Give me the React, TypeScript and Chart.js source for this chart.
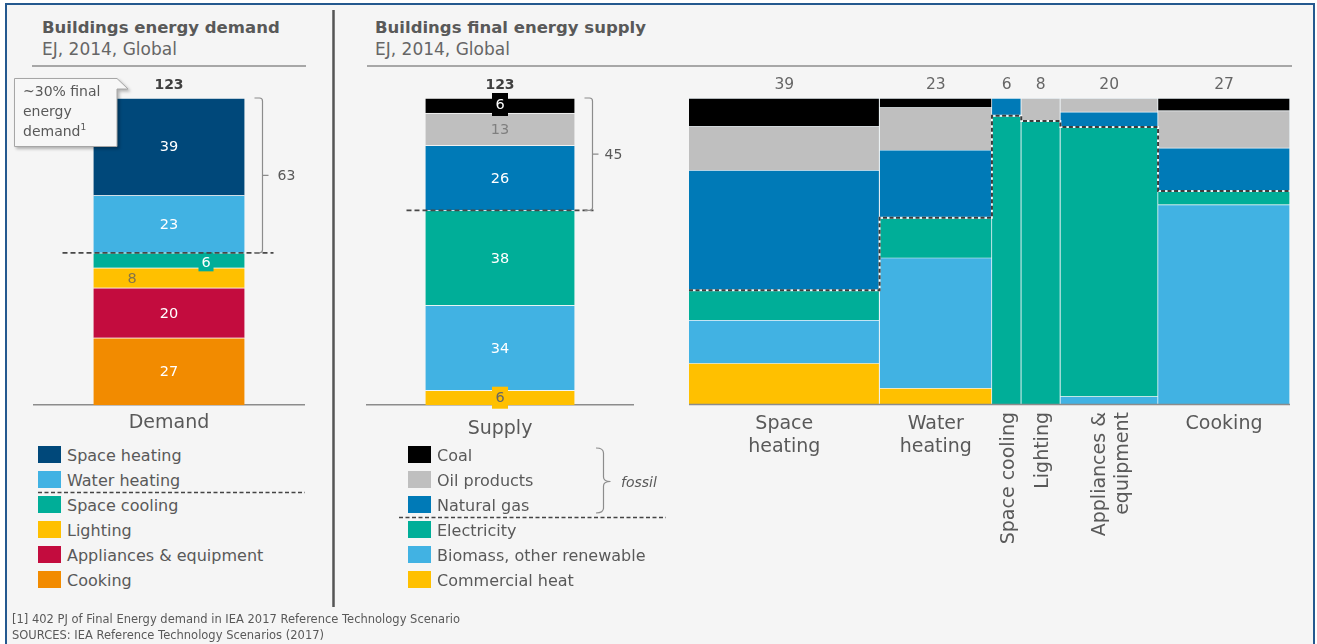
import React, { useEffect, useRef } from "react";
import { Chart, registerables } from "chart.js";

Chart.register(...registerables);

const FONT = "'DejaVu Sans', 'Open Sans', sans-serif";
Chart.defaults.font.family = FONT;

// ---------------- DATA ----------------
const endUses = ["Space heating", "Water heating", "Space cooling", "Lighting", "Appliances & equipment", "Cooking"];
const demandValues = [39, 23, 6, 8, 20, 27];
const demandAxisLabel = "Demand";
const demandTotalLabel = "123";
const demandBracketLabel = "63";

const supplyTypes = ["Coal", "Oil products", "Natural gas", "Electricity", "Biomass, other renewable", "Commercial heat"];
const supplyValues = [6, 13, 26, 38, 34, 6];
const supplyAxisLabel = "Supply";
const supplyTotalLabel = "123";
const supplyBracketLabel = "45";
const fossilCount = 3;

// Supply by end use (EJ), in the order of endUses
const coalByUse = [3.6, 0.7, 0, 0, 0, 1.1];
const oilByUse = [5.6, 3.2, 0, 0.6, 0.9, 3.3];
const gasByUse = [15.3, 5.1, 0.35, 0, 1.0, 3.8];
const electricityByUse = [3.8, 3.0, 5.65, 7.4, 17.6, 1.2];
const biomassByUse = [5.5, 9.8, 0, 0, 0.5, 17.6];
const heatByUse = [5.2, 1.2, 0, 0, 0, 0];
const supplyByUse = [coalByUse, oilByUse, gasByUse, electricityByUse, biomassByUse, heatByUse];

const mekkoTopLabels = ["39", "23", "6", "8", "20", "27"];
const mekkoBottomLabels = [["Space", "heating"], ["Water", "heating"], ["Space cooling"], ["Lighting"], ["Appliances &", "equipment"], ["Cooking"]];
const mekkoRotated = [false, false, true, true, true, false];

// ---------------- STYLES ----------------
const useColors = ["#00487a", "#41b2e3", "#00ae98", "#ffc000", "#c30c3e", "#f28b00"];
const supplyColors = ["#000000", "#bfbfbf", "#007ab7", "#00ae98", "#41b2e3", "#ffc000"];

type SegStyle = { color: string; box?: string; dx?: number; dy?: number; w?: number; h?: number };
const demandLabelStyles: SegStyle[] = [
  { color: "#ffffff" },
  { color: "#ffffff" },
  { color: "#ffffff", box: "#00ae98", dx: 37, dy: 1.5, w: 15, h: 19 },
  { color: "#85744a", dx: -37 },
  { color: "#ffffff" },
  { color: "#ffffff" },
];
const supplyLabelStyles: SegStyle[] = [
  { color: "#ffffff", box: "#000000", dy: -1, w: 16, h: 23 },
  { color: "#7f7f7f" },
  { color: "#ffffff" },
  { color: "#ffffff" },
  { color: "#ffffff" },
  { color: "#666666", box: "#ffc000", dy: 0, w: 16, h: 22 },
];

const sum = (a: number[]) => a.reduce((s, v) => s + v, 0);

function segLabelsPlugin(styles: SegStyle[], texts: string[]) {
  return {
    id: "segLabels",
    afterDatasetsDraw(chart: any) {
      const ctx = chart.ctx;
      ctx.save();
      ctx.font = `14.5px ${FONT}`;
      ctx.textAlign = "center";
      ctx.textBaseline = "middle";
      chart.data.datasets.forEach((_ds: any, di: number) => {
        const el = chart.getDatasetMeta(di).data[0];
        if (!el) return;
        const st = styles[di];
        const x = el.x + (st.dx || 0);
        const y = (el.y + el.base) / 2 + (st.dy || 0);
        if (st.box) {
          ctx.fillStyle = st.box;
          ctx.fillRect(x - (st.w || 14) / 2, y - (st.h || 18) / 2, st.w || 14, st.h || 18);
        }
        ctx.fillStyle = st.color;
        ctx.fillText(texts[di], x, y + 1);
      });
      ctx.restore();
    },
  };
}

function annotPlugin(cfg: { from: number; to: number; total: number; label: string; totalLabel: string; dashLeft: number; dashRight: number; bx: number; lx: number }) {
  return {
    id: "annot",
    afterDatasetsDraw(chart: any) {
      const ctx = chart.ctx;
      const y = chart.scales.y;
      const el = chart.getDatasetMeta(0).data[0];
      const left = el.x - el.width / 2;
      const right = el.x + el.width / 2;
      const yTop = y.getPixelForValue(cfg.to);
      const yBot = y.getPixelForValue(cfg.from);
      ctx.save();
      // dashed split line
      ctx.strokeStyle = "#474747";
      ctx.lineWidth = 1.6;
      ctx.setLineDash([5, 3]);
      ctx.beginPath();
      ctx.moveTo(left - cfg.dashLeft, yBot);
      ctx.lineTo(right + cfg.dashRight, yBot);
      ctx.stroke();
      ctx.setLineDash([]);
      // bracket
      const bx = right + cfg.bx;
      const r = 3;
      ctx.strokeStyle = "#8c8c8c";
      ctx.lineWidth = 1.2;
      ctx.beginPath();
      ctx.moveTo(bx - 8, yTop);
      ctx.lineTo(bx - r, yTop);
      ctx.quadraticCurveTo(bx, yTop, bx, yTop + r);
      ctx.lineTo(bx, yBot - r);
      ctx.quadraticCurveTo(bx, yBot, bx - r, yBot);
      ctx.lineTo(bx - 8, yBot);
      const ym = (yTop + yBot) / 2;
      ctx.moveTo(bx, ym);
      ctx.lineTo(bx + 6, ym);
      ctx.stroke();
      ctx.fillStyle = "#595959";
      ctx.font = `14px ${FONT}`;
      ctx.textAlign = "left";
      ctx.textBaseline = "middle";
      ctx.fillText(cfg.label, bx + cfg.lx, ym + 1);
      // total label
      ctx.font = `bold 14px ${FONT}`;
      ctx.fillStyle = "#404040";
      ctx.textAlign = "center";
      ctx.fillText(cfg.totalLabel, el.x, y.getPixelForValue(cfg.total) - 13);
      ctx.restore();
    },
  };
}

function StackChart(props: {
  left: number; width: number; height: number; values: number[]; colors: string[]; names: string[];
  styles: SegStyle[]; axisLabel: string; totalLabel: string; bracketLabel: string;
  splitCount: number; barW: number; dashLeft: number; dashRight: number; lx: number; tickPad: number;
}) {
  const ref = useRef<HTMLCanvasElement>(null);
  useEffect(() => {
    const total = sum(props.values);
    const order = props.values.map((_, i) => props.values.length - 1 - i); // bottom-up
    const chart = new Chart(ref.current as HTMLCanvasElement, {
      type: "bar",
      data: {
        labels: [props.axisLabel],
        datasets: order.map((i) => ({
          label: props.names[i],
          data: [props.values[i]],
          backgroundColor: props.colors[i],
          borderColor: "rgba(255,255,255,0.55)",
          borderWidth: { top: 1, left: 0, right: 0, bottom: 0 },
          borderSkipped: false,
          barThickness: props.barW,
        })),
      },
      options: {
        animation: false,
        responsive: false,
        maintainAspectRatio: false,
        layout: { padding: { top: 28, left: 0, right: 0, bottom: 0 } },
        plugins: { legend: { display: false }, tooltip: { enabled: false } },
        scales: {
          x: {
            stacked: true,
            grid: { display: false, drawTicks: false },
            border: { color: "#8c8c8c", width: 1.5 },
            ticks: { font: { size: 19, family: FONT }, color: "#595959", padding: props.tickPad },
          },
          y: { stacked: true, display: false, min: 0, max: total },
        },
      } as any,
      plugins: [
        segLabelsPlugin(order.map((i) => props.styles[i]), order.map((i) => String(props.values[i]))),
        annotPlugin({
          from: sum(props.values.slice(props.splitCount)),
          to: total,
          total,
          label: props.bracketLabel,
          totalLabel: props.totalLabel,
          dashLeft: props.dashLeft,
          dashRight: props.dashRight,
          bx: 18,
          lx: props.lx,
        }),
      ],
    });
    return () => chart.destroy();
  }, []);
  return (
    <canvas
      ref={ref}
      width={props.width}
      height={props.height}
      style={{ position: "absolute", left: props.left, top: 70, width: props.width, height: props.height }}
    />
  );
}

const MEKKO_W = 601;
const MEKKO_H = 484;

function MekkoChart() {
  const ref = useRef<HTMLCanvasElement>(null);
  useEffect(() => {
    const total = sum(demandValues);
    const starts = demandValues.map((_, i) => sum(demandValues.slice(0, i)));
    const centers = demandValues.map((v, i) => starts[i] + v / 2);
    const colTotals = endUses.map((_, i) => sum(supplyByUse.map((arr) => arr[i])));
    const datasets = endUses.map((name, i) => {
      const data: any[] = [];
      const colors: string[] = [];
      let acc = 0;
      for (let j = supplyByUse.length - 1; j >= 0; j--) {
        const v = supplyByUse[j][i];
        if (v <= 0) continue;
        const lo = (acc / colTotals[i]) * 100;
        acc += v;
        const hi = (acc / colTotals[i]) * 100;
        data.push({ x: centers[i], y: [lo, hi] });
        colors.push(supplyColors[j]);
      }
      return {
        label: name,
        data,
        backgroundColor: colors,
        borderColor: "#eef5f8",
        borderWidth: { top: 1, right: 1, left: 0, bottom: 0 },
        borderSkipped: false,
        grouped: false,
        barThickness: (demandValues[i] / total) * MEKKO_W,
      };
    });
    // non-fossil share per column (boundary of the dashed line)
    const boundaries = endUses.map((_, i) => (sum(supplyByUse.slice(fossilCount).map((arr) => arr[i])) / colTotals[i]) * 100);

    const mekkoPlugin = {
      id: "mekko",
      afterLayout(chart: any) {
        const x = chart.scales.x;
        const ppu = Math.abs(x.getPixelForValue(1) - x.getPixelForValue(0));
        chart.data.datasets.forEach((ds: any, i: number) => {
          ds.barThickness = demandValues[i] * ppu;
        });
      },
      afterDatasetsDraw(chart: any) {
        const ctx = chart.ctx;
        const x = chart.scales.x;
        const y = chart.scales.y;
        const { top, bottom, left, right } = chart.chartArea;
        ctx.save();
        // baseline
        ctx.strokeStyle = "#8c8c8c";
        ctx.lineWidth = 1.5;
        ctx.beginPath();
        ctx.moveTo(left, bottom + 0.5);
        ctx.lineTo(right, bottom + 0.5);
        ctx.stroke();
        // fossil boundary (stepped dashed line)
        const pts: [number, number][] = [];
        endUses.forEach((_, i) => {
          const yy = y.getPixelForValue(boundaries[i]);
          pts.push([x.getPixelForValue(starts[i]), yy]);
          pts.push([x.getPixelForValue(starts[i] + demandValues[i]), yy]);
        });
        const path = () => {
          ctx.beginPath();
          pts.forEach(([px, py], k) => (k === 0 ? ctx.moveTo(px, py) : ctx.lineTo(px, py)));
        };
        ctx.strokeStyle = "rgba(255,255,255,0.85)";
        ctx.lineWidth = 2;
        path();
        ctx.stroke();
        ctx.strokeStyle = "#3c3c3c";
        ctx.setLineDash([4, 2.5]);
        path();
        ctx.stroke();
        ctx.setLineDash([]);
        // top labels
        ctx.font = `15.5px ${FONT}`;
        ctx.fillStyle = "#666666";
        ctx.textAlign = "center";
        ctx.textBaseline = "middle";
        mekkoTopLabels.forEach((t, i) => ctx.fillText(t, x.getPixelForValue(centers[i]), top - 13));
        // bottom labels
        ctx.font = `19px ${FONT}`;
        ctx.fillStyle = "#595959";
        mekkoBottomLabels.forEach((lines, i) => {
          const cx = x.getPixelForValue(centers[i]);
          if (!mekkoRotated[i]) {
            ctx.textAlign = "center";
            ctx.textBaseline = "alphabetic";
            lines.forEach((ln, k) => ctx.fillText(ln, cx, bottom + 25 + k * 23));
          } else {
            ctx.save();
            ctx.translate(cx + 2, bottom + 8);
            ctx.rotate(-Math.PI / 2);
            ctx.textAlign = "right";
            ctx.textBaseline = "middle";
            const n = lines.length;
            lines.forEach((ln, k) => ctx.fillText(ln, 0, (k - (n - 1) / 2) * 23));
            ctx.restore();
          }
        });
        ctx.restore();
      },
    };

    const chart = new Chart(ref.current as HTMLCanvasElement, {
      type: "bar",
      data: { datasets: datasets as any },
      options: {
        animation: false,
        responsive: false,
        maintainAspectRatio: false,
        layout: { padding: { top: 28, bottom: 150, left: 0, right: 0 } },
        plugins: { legend: { display: false }, tooltip: { enabled: false } },
        scales: {
          x: { type: "linear", min: 0, max: total, offset: false, display: false },
          y: { type: "linear", min: 0, max: 100, display: false },
        },
      } as any,
      plugins: [mekkoPlugin],
    });
    return () => chart.destroy();
  }, []);
  return (
    <canvas
      ref={ref}
      width={MEKKO_W}
      height={MEKKO_H}
      style={{ position: "absolute", left: 689, top: 70, width: MEKKO_W, height: MEKKO_H }}
    />
  );
}

function Txt(p: { x: number; base: number; size: number; children: any; bold?: boolean; italic?: boolean; color?: string }) {
  return (
    <div
      style={{
        position: "absolute",
        left: p.x,
        top: p.base - 0.846 * p.size,
        fontFamily: FONT,
        fontSize: p.size,
        lineHeight: 1,
        fontWeight: p.bold ? 700 : 400,
        fontStyle: p.italic ? "italic" : "normal",
        color: p.color || "#595959",
        whiteSpace: "nowrap",
      }}
    >
      {p.children}
    </div>
  );
}

function Legend({ names, colors, sqLeft, textLeft }: { names: string[]; colors: string[]; sqLeft: number; textLeft: number }) {
  return (
    <>
      {names.map((n, i) => (
        <React.Fragment key={n}>
          <div style={{ position: "absolute", left: sqLeft, top: 446 + i * 25, width: 23, height: 17, background: colors[i] }} />
          <Txt x={textLeft} base={462 + i * 25} size={16}>
            {n}
          </Txt>
        </React.Fragment>
      ))}
    </>
  );
}

export default function App() {
  return (
    <div style={{ position: "fixed", left: 0, top: 0, width: 1317, height: 644, background: "#ffffff", overflow: "hidden" }}>
      <div
        style={{
          position: "absolute",
          left: 5,
          top: 3,
          width: 1306,
          height: 660,
          background: "#f5f5f5",
          borderLeft: "2px solid #24598f",
          borderTop: "2px solid #24598f",
          borderRight: "2px solid #24598f",
        }}
      />

      <Txt x={42} base={34} size={16.5} bold color="#595959">Buildings energy demand</Txt>
      <Txt x={42} base={55} size={17} color="#666666">EJ, 2014, Global</Txt>
      <Txt x={375} base={34} size={16.5} bold color="#595959">Buildings final energy supply</Txt>
      <Txt x={375} base={55} size={17} color="#666666">EJ, 2014, Global</Txt>

      <StackChart
        left={33}
        width={272}
        height={370}
        values={demandValues}
        colors={useColors}
        names={endUses}
        styles={demandLabelStyles}
        axisLabel={demandAxisLabel}
        totalLabel={demandTotalLabel}
        bracketLabel={demandBracketLabel}
        splitCount={2}
        barW={151}
        dashLeft={31}
        dashRight={29}
        lx={15}
        tickPad={6}
      />
      <StackChart
        left={366}
        width={268}
        height={382}
        values={supplyValues}
        colors={supplyColors}
        names={supplyTypes}
        styles={supplyLabelStyles}
        axisLabel={supplyAxisLabel}
        totalLabel={supplyTotalLabel}
        bracketLabel={supplyBracketLabel}
        splitCount={fossilCount}
        barW={149}
        dashLeft={19}
        dashRight={19}
        lx={12}
        tickPad={12}
      />
      <MekkoChart />

      <Legend names={endUses} colors={useColors} sqLeft={38} textLeft={67} />
      <Legend names={supplyTypes} colors={supplyColors} sqLeft={408} textLeft={437} />

      <svg width={1317} height={644} style={{ position: "absolute", left: 0, top: 0, pointerEvents: "none" }}>
        <line x1={333.5} y1={10} x2={333.5} y2={607} stroke="#555555" strokeWidth={2.5} />
        <line x1={32} y1={66} x2={306} y2={66} stroke="#8c8c8c" strokeWidth={1.5} />
        <line x1={367} y1={66} x2={1292} y2={66} stroke="#8c8c8c" strokeWidth={1.5} />
        <line x1={38} y1={492.5} x2={305} y2={492.5} stroke="#444444" strokeWidth={1.5} strokeDasharray="4 2.5" />
        <line x1={399} y1={517.5} x2={666} y2={517.5} stroke="#444444" strokeWidth={1.5} strokeDasharray="4 2.5" />
        <path
          d="M596,448 Q603.5,448 603.5,453 V477 Q603.5,481.5 610.5,481.5 Q603.5,481.5 603.5,486 V508 Q603.5,513 596,513"
          fill="none"
          stroke="#8c8c8c"
          strokeWidth={1.2}
        />
        <path
          d="M14.5,78.5 H117 L128,89 H117 V146.5 H14.5 Z"
          fill="#f7f7f7"
          stroke="#a6a6a6"
          strokeWidth={1}
          style={{ filter: "drop-shadow(2px 2px 1.5px rgba(0,0,0,0.28))" }}
        />
      </svg>

      <Txt x={621} base={487} size={14} italic color="#595959">fossil</Txt>

      <Txt x={23} base={96} size={14} color="#595959">~30% final</Txt>
      <Txt x={23} base={116} size={14} color="#595959">energy</Txt>
      <Txt x={23} base={136} size={14} color="#595959">
        demand<sup style={{ fontSize: 9, verticalAlign: "top", position: "relative", top: -1 }}>1</sup>
      </Txt>

      <Txt x={12} base={624} size={11.5} color="#595959">[1] 402 PJ of Final Energy demand in IEA 2017 Reference Technology Scenario</Txt>
      <Txt x={12} base={640} size={11.5} color="#595959">SOURCES: IEA Reference Technology Scenarios (2017)</Txt>
    </div>
  );
}
